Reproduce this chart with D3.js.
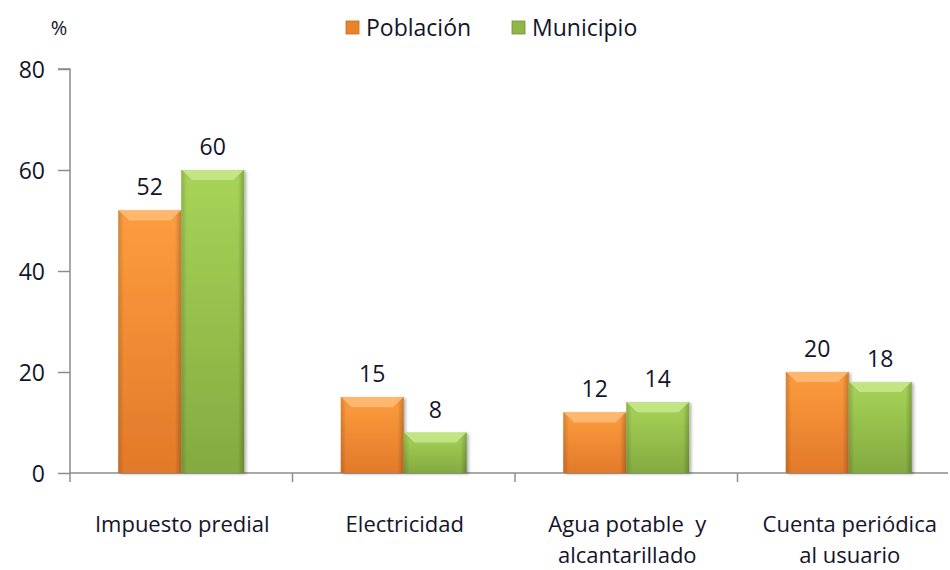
<!DOCTYPE html>
<html>
<head>
<meta charset="utf-8">
<script src="https://cdn.jsdelivr.net/npm/d3@7/dist/d3.min.js"></script>
<style>
  body { margin: 0; background: #fff; }
  svg text { font-family: "Open Sans", "Noto Sans", sans-serif; fill: #14142a; }
</style>
</head>
<body>
<div id="chart"></div>
<script>
// data
const categories = [["Impuesto predial"], ["Electricidad"], ["Agua potable  y", "alcantarillado"], ["Cuenta periódica", "al usuario"]];
const seriesNames = ["Población", "Municipio"];
const poblacion = [52, 15, 12, 20];
const municipio = [60, 8, 14, 18];
const yTicks = [0, 20, 40, 60, 80];

const width = 950, height = 570;
const margin = {top: 69, right: 0, bottom: 97, left: 70};

const svg = d3.select("#chart").append("svg")
    .attr("width", width)
    .attr("height", height);

const defs = svg.append("defs");

const palette = [
  {top: "#fd9d3e", bottom: "#e2792a", light: "#ffbe7a", legend: "#e9832a", edge: "#c86a1c"},
  {top: "#a7d458", bottom: "#84aa40", light: "#cbe88f", legend: "#8fb748", edge: "#6f9232"}
];

palette.forEach((p, i) => {
  const g = defs.append("linearGradient").attr("id", "vert" + i)
      .attr("x1", 0).attr("y1", 0).attr("x2", 0).attr("y2", 1);
  g.append("stop").attr("offset", "0%").attr("stop-color", p.top);
  g.append("stop").attr("offset", "100%").attr("stop-color", p.bottom);
});

const side = defs.append("linearGradient").attr("id", "side")
    .attr("x1", 0).attr("y1", 0).attr("x2", 1).attr("y2", 0);
side.append("stop").attr("offset", "0%").attr("stop-color", "#000").attr("stop-opacity", 0.16);
side.append("stop").attr("offset", "9%").attr("stop-color", "#000").attr("stop-opacity", 0);
side.append("stop").attr("offset", "90%").attr("stop-color", "#000").attr("stop-opacity", 0);
side.append("stop").attr("offset", "100%").attr("stop-color", "#000").attr("stop-opacity", 0.22);

const shadow = defs.append("filter").attr("id", "shadow")
    .attr("x", "-10%").attr("y", "-10%").attr("width", "130%").attr("height", "130%");
shadow.append("feDropShadow").attr("dx", 2).attr("dy", 1).attr("stdDeviation", 1.8)
    .attr("flood-color", "#000").attr("flood-opacity", 0.3);

const x0 = d3.scaleBand()
    .domain(d3.range(categories.length))
    .range([margin.left, margin.left + 4 * 222.5])
    .paddingInner(0)
    .paddingOuter(0);

const x1 = d3.scaleBand()
    .domain([0, 1])
    .range([0, x0.bandwidth()])
    .paddingInner(0)
    .paddingOuter(0.766);

const y = d3.scaleLinear()
    .domain([0, 80])
    .range([height - margin.bottom, margin.top]);

// y axis
const axisColor = "#8c8c8c";
const yAxis = svg.append("g")
    .attr("transform", `translate(${margin.left},0)`)
    .call(d3.axisLeft(y).tickValues(yTicks).tickSize(12).tickPadding(13));
yAxis.select(".domain").attr("stroke", axisColor).attr("stroke-width", 1.5)
    .attr("d", `M-12,${y(80)}H0V${y(0) + 9}`);
yAxis.selectAll(".tick line").attr("stroke", axisColor).attr("stroke-width", 1.5);
yAxis.selectAll(".tick text").style("font-size", "23px").attr("dy", "0.35em");

svg.append("text")
    .attr("x", 59).attr("y", 35)
    .attr("text-anchor", "middle")
    .style("font-size", "20px")
    .text("%");

// x axis
const xAxisY = y(0);
svg.append("line")
    .attr("x1", margin.left).attr("x2", 948)
    .attr("y1", xAxisY).attr("y2", xAxisY)
    .attr("stroke", axisColor).attr("stroke-width", 1.5);
svg.selectAll(".xtick")
    .data(d3.range(1, categories.length))
    .join("line")
    .attr("class", "xtick")
    .attr("x1", d => x0(d)).attr("x2", d => x0(d))
    .attr("y1", xAxisY).attr("y2", xAxisY + 9)
    .attr("stroke", axisColor).attr("stroke-width", 1.5);

const labels = svg.selectAll(".xlabel")
    .data(categories)
    .join("text")
    .attr("class", "xlabel")
    .attr("text-anchor", "middle")
    .style("font-size", "22px")
    .attr("transform", (d, i) => `translate(${x0(i) + x0.bandwidth() / 2 + 1},${xAxisY + 59})`);
labels.selectAll("tspan")
    .data(d => d)
    .join("tspan")
    .attr("x", 0)
    .attr("y", (d, i) => i * 31)
    .style("white-space", "pre")
    .text(d => d);

// bars
const rows = categories.map((c, i) => [poblacion[i], municipio[i]]);
const groups = svg.selectAll(".grp")
    .data(rows)
    .join("g")
    .attr("class", "grp")
    .attr("transform", (d, i) => `translate(${x0(i)},0)`);

const bars = groups.selectAll(".bar")
    .data(d => d.map((v, s) => ({v, s})))
    .join("g")
    .attr("class", "bar");

bars.each(function(d) {
  const g = d3.select(this);
  const bx = x1(d.s), bw = x1.bandwidth();
  const by = y(d.v), bh = y(0) - y(d.v);
  const p = palette[d.s];
  const bev = Math.min(10, bh / 2);
  g.append("rect")
      .attr("x", bx).attr("y", by).attr("width", bw).attr("height", bh)
      .attr("fill", `url(#vert${d.s})`)
      .attr("filter", "url(#shadow)");
  g.append("rect")
      .attr("x", bx).attr("y", by).attr("width", bw).attr("height", bh)
      .attr("fill", "url(#side)");
  g.append("path")
      .attr("d", `M${bx},${by}H${bx + bw}L${bx + bw - bev},${by + bev}H${bx + bev}Z`)
      .attr("fill", p.light).attr("opacity", 0.8);
  g.append("path")
      .attr("d", `M${bx},${by}L${bx + bev},${by + bev}M${bx + bw},${by}L${bx + bw - bev},${by + bev}`)
      .attr("stroke", p.edge).attr("stroke-opacity", 0.35).attr("stroke-width", 1);
  g.append("text")
      .attr("x", bx + bw / 2)
      .attr("y", by - 15)
      .attr("text-anchor", "middle")
      .style("font-size", "23px")
      .text(d.v);
});

// legend
const legend = svg.append("g");
const legendX = [346, 512];
seriesNames.forEach((name, i) => {
  const lg = legend.append("g").attr("transform", `translate(${legendX[i]},21)`);
  lg.append("rect")
      .attr("width", 13).attr("height", 13)
      .attr("fill", palette[i].legend)
      .attr("stroke", palette[i].edge).attr("stroke-width", 0.8);
  lg.append("text")
      .attr("x", 20).attr("y", 15)
      .style("font-size", "23px")
      .text(name);
});
</script>
</body>
</html>
